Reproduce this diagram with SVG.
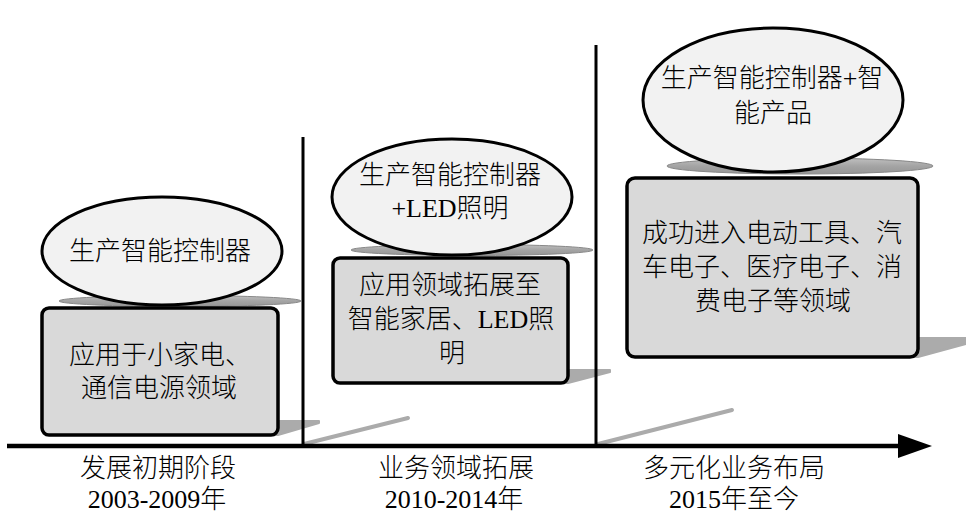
<svg xmlns="http://www.w3.org/2000/svg" width="966" height="515" viewBox="0 0 966 515">
<defs>
<linearGradient id="shg" x1="0" y1="0" x2="0" y2="1">
<stop offset="0" stop-color="#c0c0c0"/>
<stop offset="0.5" stop-color="#a4a4a4"/>
<stop offset="1" stop-color="#969696"/>
</linearGradient>
<marker id="arrow" viewBox="0 0 34 24" refX="2" refY="12" markerWidth="34" markerHeight="24" markerUnits="userSpaceOnUse" orient="auto">
<polygon points="0,0 34,12 0,24" fill="#000"/>
</marker>
</defs>
<style>
.t{font-family:"Liberation Serif","Noto Sans CJK SC",serif;font-size:26px;font-weight:300;fill:#000;text-anchor:middle}
.ell{fill:#f2f2f2;stroke:#000;stroke-width:3}
.box{fill:#d9d9d9;stroke:#000;stroke-width:3.5}
.esh{fill:url(#shg);stroke:#888;stroke-width:1}
.bsh{fill:#ababab;stroke:#ababab;stroke-width:2;stroke-linejoin:round}
.lsh{stroke:#ababab;stroke-width:4;stroke-linecap:round;fill:none}
.div{stroke:#000;stroke-width:3;fill:none}
.ax{stroke:#000;stroke-width:4.5;fill:none}
</style>
<rect width="966" height="515" fill="#fff"/>

<g id="shadows">
<line class="lsh" x1="304" y1="444" x2="408" y2="418"/>
<line class="lsh" x1="598" y1="444" x2="732" y2="410"/>
<polygon class="bsh" points="60,435 278,435 319,423 319,421 100,421"/>
<polygon class="bsh" points="350,383 568,383 610,372 610,370 390,370"/>
<polygon class="bsh" points="650,357 918,357 980,340 980,338 700,338"/>
<ellipse class="esh" cx="180" cy="301" rx="121" ry="5.5"/>
<ellipse class="esh" cx="472" cy="250" rx="121" ry="5.5"/>
<ellipse class="esh" cx="800" cy="166" rx="133" ry="8"/>
</g>

<g id="connectors">
<line class="div" x1="303" y1="137" x2="303" y2="446"/>
<line class="div" x1="596" y1="45" x2="596" y2="446"/>
<line class="ax" x1="7" y1="446" x2="900" y2="446" marker-end="url(#arrow)"/>
</g>

<g id="stage1-product">
<ellipse class="ell" cx="162" cy="251" rx="120" ry="54"/>
<text class="t" x="160" y="260">生产智能控制器</text>
</g>
<g id="stage1-field">
<rect class="box" x="42" y="308" width="236" height="127" rx="7"/>
<text class="t" x="160" y="364">应用于小家电、</text>
<text class="t" x="159" y="397">通信电源领域</text>
</g>

<g id="stage2-product">
<ellipse class="ell" cx="452" cy="197" rx="120" ry="58"/>
<text class="t" x="450" y="184">生产智能控制器</text>
<text class="t" x="450" y="217">+LED照明</text>
</g>
<g id="stage2-field">
<rect class="box" x="333" y="258" width="235" height="125" rx="7"/>
<text class="t" x="450" y="294">应用领域拓展至</text>
<text class="t" x="451" y="328">智能家居、LED照</text>
<text class="t" x="452" y="362">明</text>
</g>

<g id="stage3-product">
<ellipse class="ell" cx="773" cy="100" rx="130" ry="72"/>
<text class="t" x="772" y="87">生产智能控制器+智</text>
<text class="t" x="773" y="122">能产品</text>
</g>
<g id="stage3-field">
<rect class="box" x="627" y="178" width="291" height="179" rx="8"/>
<text class="t" x="772" y="242">成功进入电动工具、汽</text>
<text class="t" x="772" y="276">车电子、医疗电子、消</text>
<text class="t" x="773" y="310">费电子等领域</text>
</g>

<g id="label1">
<text class="t" x="158" y="477">发展初期阶段</text>
<text class="t" x="157" y="508">2003-2009年</text>
</g>
<g id="label2">
<text class="t" x="456" y="477">业务领域拓展</text>
<text class="t" x="454" y="508">2010-2014年</text>
</g>
<g id="label3">
<text class="t" x="734" y="477">多元化业务布局</text>
<text class="t" x="734" y="508">2015年至今</text>
</g>
</svg>
